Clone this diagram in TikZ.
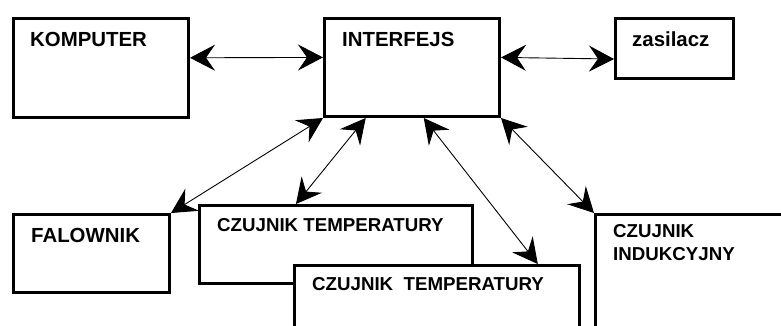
\documentclass[tikz,border=0pt]{standalone}
\usepackage{fontspec}
\setmainfont{Liberation Sans}
\usetikzlibrary{arrows.meta,calc}

\tikzset{
  box/.style={draw=black, line width=3pt, fill=white, rectangle, inner sep=0pt,
    anchor=north west},
  big/.style={font=\bfseries\fontsize{20.4}{24}\selectfont, inner sep=0pt, anchor=base west},
  small/.style={font=\bfseries\fontsize{18.7}{23}\selectfont, inner sep=0pt, anchor=base west,
    align=left},
  link/.style={line width=0.9pt, {Stealth[length=25pt,width=26pt,inset=9pt]}-{Stealth[length=25pt,width=26pt,inset=9pt]}}
}

\begin{document}
\begin{tikzpicture}[x=1pt, y=-1pt]
  % page frame
  \clip (0,0) rectangle (781,325);
  \fill[white] (0,0) rectangle (781,325);

  % boxes
  \node[box, minimum width=175pt, minimum height=99pt] (komp) at (12,17) {};
  \node[box, minimum width=175pt, minimum height=98pt] (interf) at (323,17) {};
  \node[box, minimum width=118pt, minimum height=60pt] (zas) at (614,17) {};
  \node[box, minimum width=156pt, minimum height=78pt] (fal) at (12,213) {};
  \node[box, minimum width=273pt, minimum height=78pt] (ct1) at (198,204) {};
  \node[box, minimum width=285pt, minimum height=90pt] (ct2) at (293,264) {};
  \node[box, minimum width=220pt, minimum height=140pt] (ind) at (594,213) {};

  % labels
  \node[big] (tkomp) at (30,46) {KOMPUTER};
  \node[big] (tinterf) at (342,46) {INTERFEJS};
  \node[big] (tzas) at (632,46) {zasilacz};
  \node[big] (tfal) at (31,242) {FALOWNIK};
  \node[small] (tct1) at (217,231) {CZUJNIK TEMPERATURY};
  \node[small] (tct2) at (312,290) {CZUJNIK\ \ TEMPERATURY};
  \node[small] (tind1) at (613,237) {CZUJNIK};
  \node[small] (tind2) at (613,260) {INDUKCYJNY};

  % connections
  \draw[link] ($(komp.north east)!0.4!(komp.south east)$) --
              ($(interf.north west)!0.4!(interf.south west)$);
  \draw[link] ($(interf.north east)!0.4!(interf.south east)$) --
              ($(zas.north west)!0.667!(zas.south west)$);
  \draw[link] (interf.south west) -- (fal.north east);
  \draw[link] ($(interf.south west)!0.24!(interf.south east)$) --
              ($(ct1.north west)!0.355!(ct1.north east)$);
  \draw[link] ($(interf.south west)!0.566!(interf.south east)$) --
              ($(ct2.north west)!0.85!(ct2.north east)$);
  \draw[link] (interf.south east) -- (ind.north west);
\end{tikzpicture}
\end{document}
